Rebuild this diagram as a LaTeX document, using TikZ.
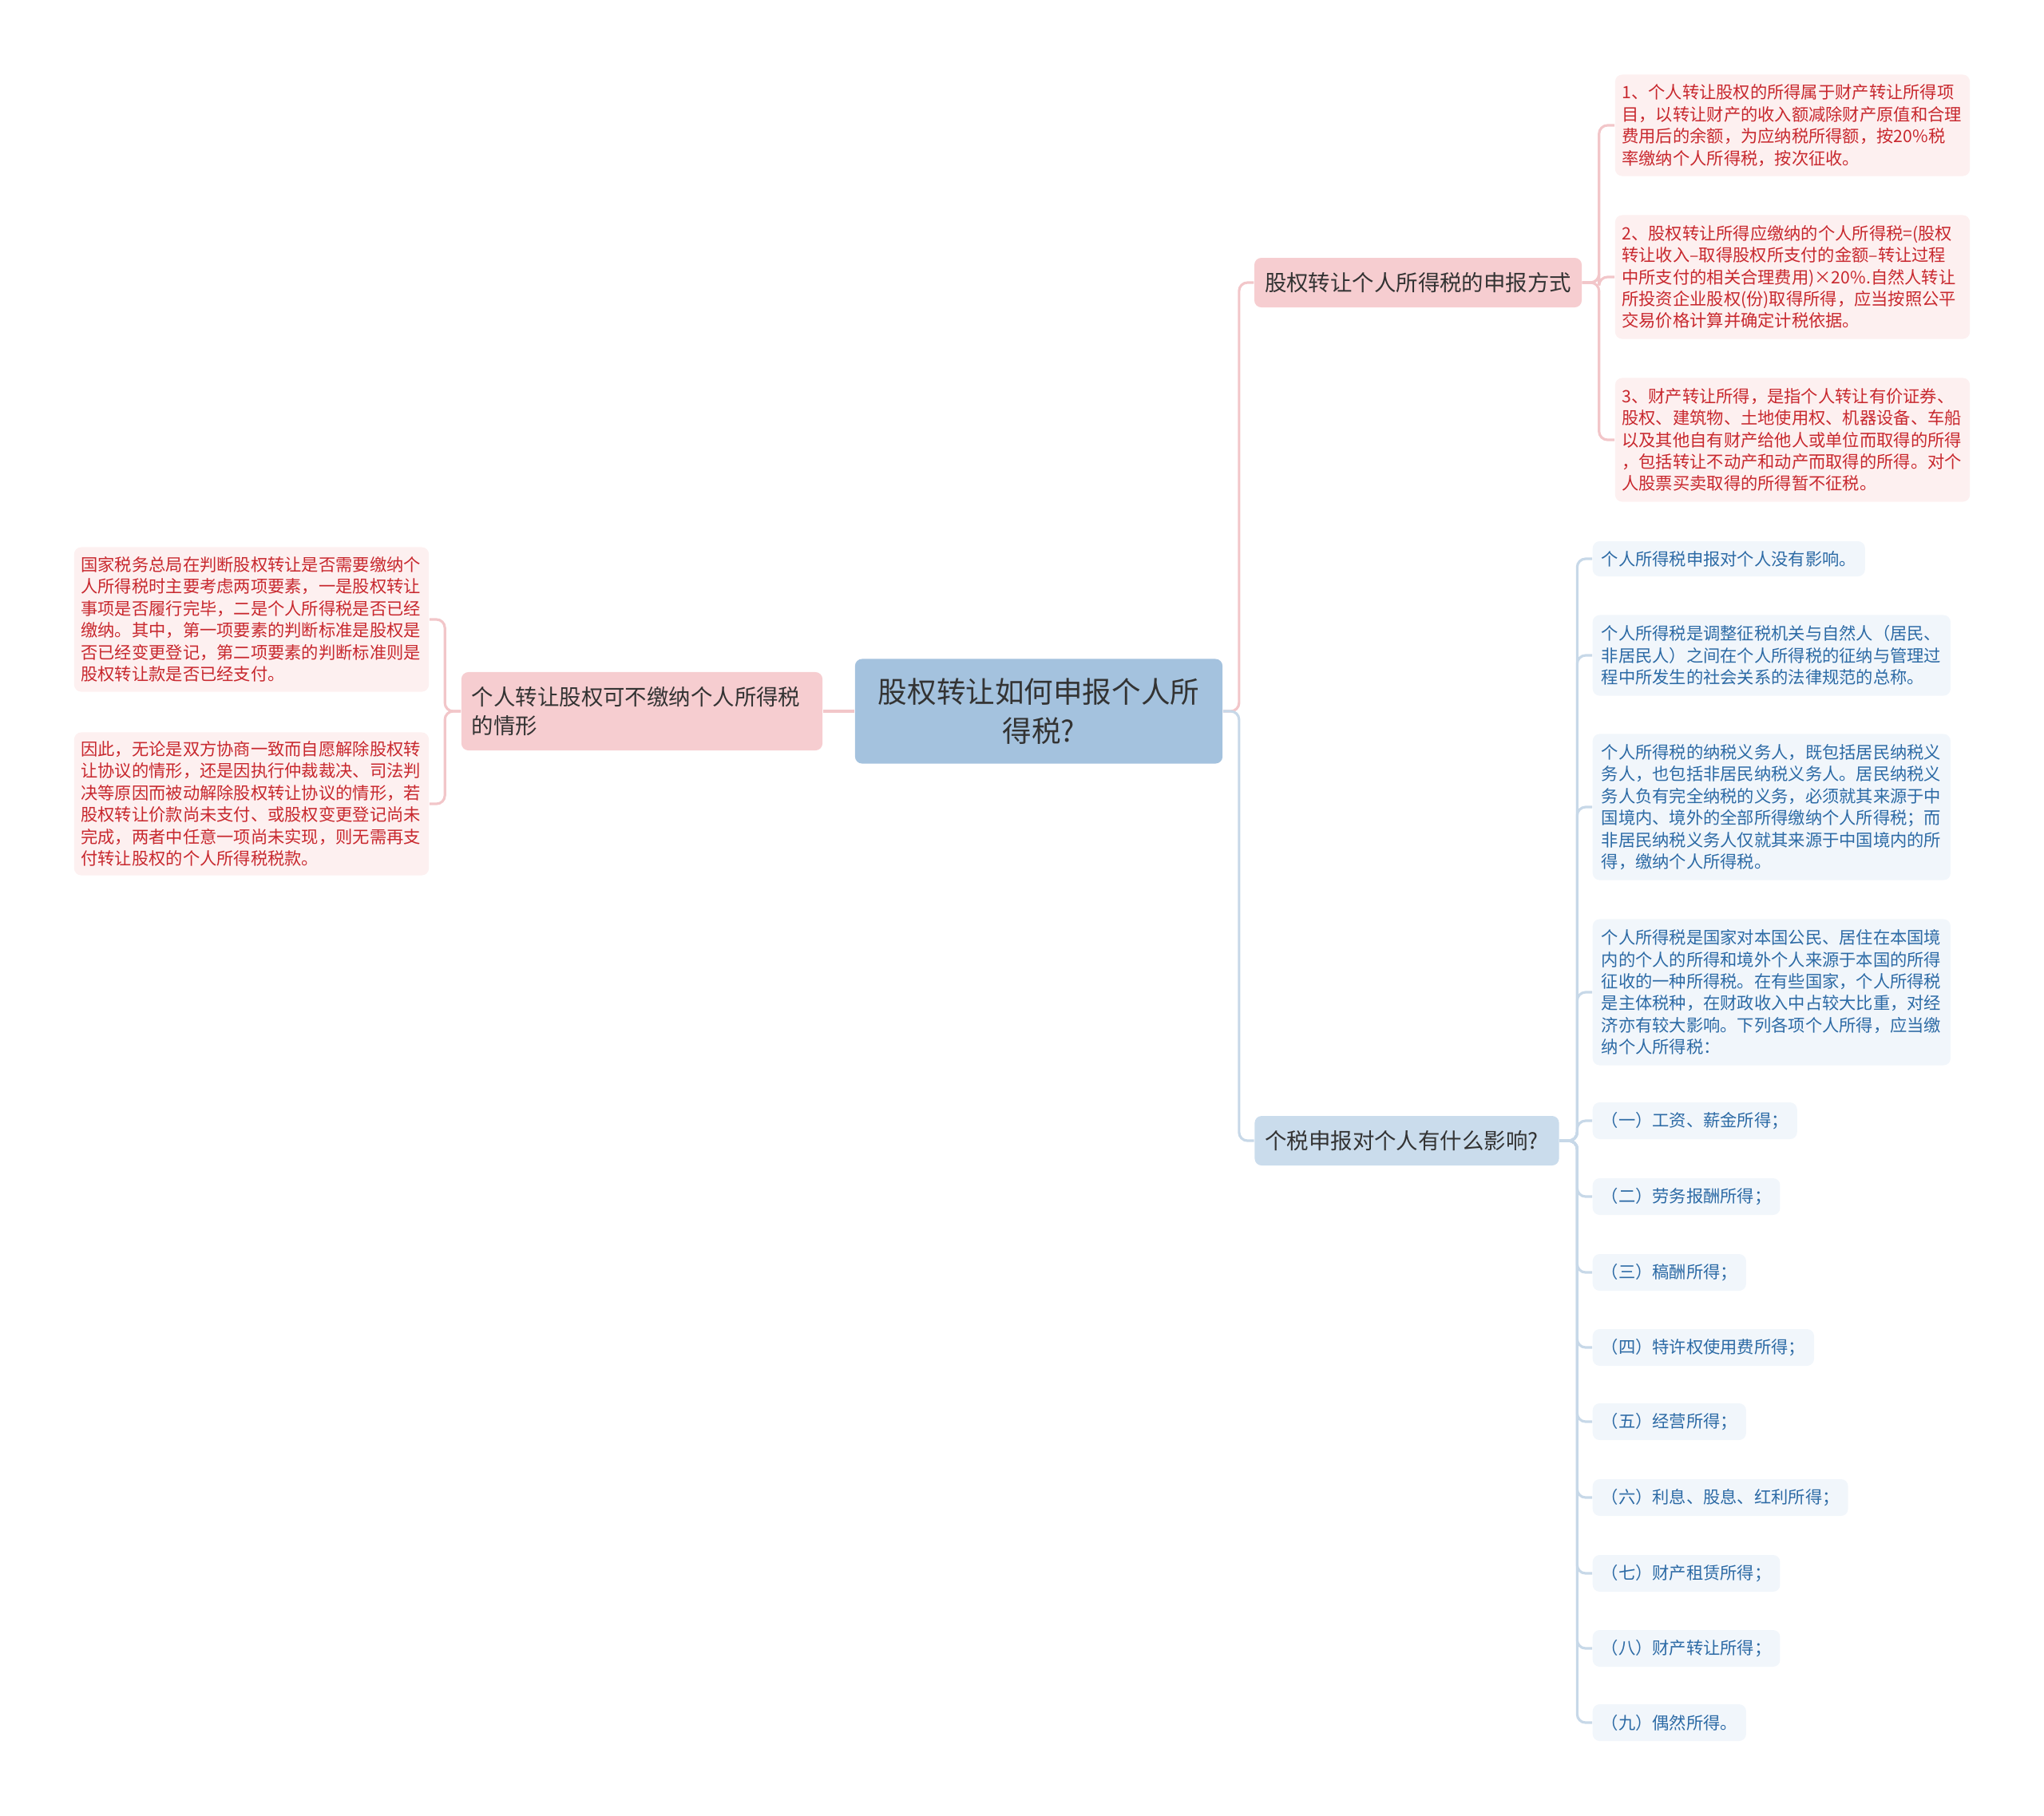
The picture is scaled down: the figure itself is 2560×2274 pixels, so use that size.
\documentclass[tikz,border=0pt]{standalone}
\usepackage{fontspec}
\setmainfont{Noto Sans CJK SC}
\definecolor{gsroot}{HTML}{A4C2DE}
\definecolor{gspink}{HTML}{F6CDD0}
\definecolor{gsblue}{HTML}{CADCEC}
\definecolor{gsleafp}{HTML}{FDF0F0}
\definecolor{gsleafb}{HTML}{F1F6FB}
\definecolor{gsred}{HTML}{C8282E}
\definecolor{gsnavy}{HTML}{2C6AA5}
\definecolor{gstext}{HTML}{333333}
\definecolor{gslinep}{HTML}{F2C6C9}
\definecolor{gslineb}{HTML}{C7D8E8}
\newcommand{\rootfs}{\fontsize{10.4pt}{13.9pt}\selectfont}
\newcommand{\mainfs}{\fontsize{7.8pt}{10.2pt}\selectfont}
\newcommand{\leaffs}{\fontsize{6.05pt}{7.8pt}\selectfont}

\begin{document}
\begin{tikzpicture}[x=0.01cm, y={(0cm,-0.01cm)},
     box/.style={rounded corners=2.5pt, inner ysep=0pt},
     root/.style={box, fill=gsroot, text=gstext, font=\rootfs, align=center, minimum width=4.6cm, minimum height=1.31cm},
     mainp/.style={box, fill=gspink, text=gstext, font=\mainfs, inner xsep=0.13cm, minimum height=0.62cm},
     mainb/.style={box, fill=gsblue, text=gstext, font=\mainfs, inner xsep=0.13cm, minimum height=0.62cm},
     leafp/.style={box, fill=gsleafp, text=gsred, font=\leaffs, align=left, inner xsep=0.085cm, text width=4.27cm},
     leafb/.style={box, fill=gsleafb, text=gsnavy, font=\leaffs, align=left, inner xsep=0.11cm, anchor=west},
     pl/.style={draw=gslinep, line width=0.9pt, rounded corners=3pt},
     bl/.style={draw=gslineb, line width=0.9pt, rounded corners=3pt}]
    \useasboundingbox (0,0) rectangle (2560,2274);

    \node[root] (root) at (1301,891) {股权转让如何申报个人所\\得税?};

    \node[mainp, align=left, text width=4.26cm, minimum height=0.98cm] (lm) at (804,891) {个人转让股权可不缴纳个人所得税\\的情形};
    \node[leafp, minimum height=1.81cm] (ll1) at (315,776) {国家税务总局在判断股权转让是否需要缴纳个\\人所得税时主要考虑两项要素，一是股权转让\\事项是否履行完毕，二是个人所得税是否已经\\缴纳。其中，第一项要素的判断标准是股权是\\否已经变更登记，第二项要素的判断标准则是\\股权转让款是否已经支付。};
    \node[leafp, minimum height=1.79cm] (ll2) at (315,1007) {因此，无论是双方协商一致而自愿解除股权转\\让协议的情形，还是因执行仲裁裁决、司法判\\决等原因而被动解除股权转让协议的情形，若\\股权转让价款尚未支付、或股权变更登记尚未\\完成，两者中任意一项尚未实现，则无需再支\\付转让股权的个人所得税税款。};

    \node[mainp] (rm1) at (1776,354) {股权转让个人所得税的申报方式};
    \node[leafp, minimum height=1.27cm] (pr1) at (2245,157) {1、个人转让股权的所得属于财产转让所得项\\目，以转让财产的收入额减除财产原值和合理\\费用后的余额，为应纳税所得额，按20\%税\\率缴纳个人所得税，按次征收。};
    \node[leafp, minimum height=1.55cm] (pr2) at (2245,347) {2、股权转让所得应缴纳的个人所得税=(股权\\转让收入–取得股权所支付的金额–转让过程\\中所支付的相关合理费用)×20\%.自然人转让\\所投资企业股权(份)取得所得，应当按照公平\\交易价格计算并确定计税依据。};
    \node[leafp, minimum height=1.55cm] (pr3) at (2245,551) {3、财产转让所得，是指个人转让有价证券、\\股权、建筑物、土地使用权、机器设备、车船\\以及其他自有财产给他人或单位而取得的所得\\，包括转让不动产和动产而取得的所得。对个\\人股票买卖取得的所得暂不征税。};

    \node[mainb, align=left, text width=3.55cm] (rm2) at (1762,1429) {个税申报对个人有什么影响?};
    \node[leafb, minimum height=0.44cm] (b1) at (1994,700) {个人所得税申报对个人没有影响。};
    \node[leafb, text width=4.26cm, minimum height=1.01cm] (b2) at (1994,821) {个人所得税是调整征税机关与自然人（居民、\\非居民人）之间在个人所得税的征纳与管理过\\程中所发生的社会关系的法律规范的总称。};
    \node[leafb, text width=4.26cm, minimum height=1.83cm] (b3) at (1994,1011) {个人所得税的纳税义务人，既包括居民纳税义\\务人，也包括非居民纳税义务人。居民纳税义\\务人负有完全纳税的义务，必须就其来源于中\\国境内、境外的全部所得缴纳个人所得税；而\\非居民纳税义务人仅就其来源于中国境内的所\\得，缴纳个人所得税。};
    \node[leafb, text width=4.26cm, minimum height=1.83cm] (b4) at (1994,1243) {个人所得税是国家对本国公民、居住在本国境\\内的个人的所得和境外个人来源于本国的所得\\征收的一种所得税。在有些国家，个人所得税\\是主体税种，在财政收入中占较大比重，对经\\济亦有较大影响。下列各项个人所得，应当缴\\纳个人所得税：};
    \node[leafb, minimum height=0.46cm] (b5) at (1994,1404) {（一）工资、薪金所得；};
    \node[leafb, minimum height=0.46cm] (b6) at (1994,1499) {（二）劳务报酬所得；};
    \node[leafb, minimum height=0.46cm] (b7) at (1994,1594) {（三）稿酬所得；};
    \node[leafb, minimum height=0.46cm] (b8) at (1994,1688) {（四）特许权使用费所得；};
    \node[leafb, minimum height=0.46cm] (b9) at (1994,1781) {（五）经营所得；};
    \node[leafb, minimum height=0.46cm] (b10) at (1994,1876) {（六）利息、股息、红利所得；};
    \node[leafb, minimum height=0.46cm] (b11) at (1994,1971) {（七）财产租赁所得；};
    \node[leafb, minimum height=0.46cm] (b12) at (1994,2065) {（八）财产转让所得；};
    \node[leafb, minimum height=0.46cm] (b13) at (1994,2158) {（九）偶然所得。};

    \draw[pl] (root.west) -- (lm.east);
    \draw[pl] (lm.west) -- ++(-20,0) |- (ll1.east);
    \draw[pl] (lm.west) -- ++(-20,0) |- (ll2.east);
    \draw[pl] (root.east) -- ++(20,0) |- (rm1.west);
    \draw[bl] (root.east) -- ++(20,0) |- (rm2.west);
    \draw[pl] (rm1.east) -- ++(21,0) |- (pr1.west);
    \draw[pl] (rm1.east) -- ++(21,0) |- (pr2.west);
    \draw[pl] (rm1.east) -- ++(21,0) |- (pr3.west);
    \draw[bl] (rm2.east) -- ++(22,0) |- (b1.west);
    \draw[bl] (rm2.east) -- ++(22,0) |- (b2.west);
    \draw[bl] (rm2.east) -- ++(22,0) |- (b3.west);
    \draw[bl] (rm2.east) -- ++(22,0) |- (b4.west);
    \draw[bl] (rm2.east) -- ++(22,0) |- (b5.west);
    \draw[bl] (rm2.east) -- ++(22,0) |- (b6.west);
    \draw[bl] (rm2.east) -- ++(22,0) |- (b7.west);
    \draw[bl] (rm2.east) -- ++(22,0) |- (b8.west);
    \draw[bl] (rm2.east) -- ++(22,0) |- (b9.west);
    \draw[bl] (rm2.east) -- ++(22,0) |- (b10.west);
    \draw[bl] (rm2.east) -- ++(22,0) |- (b11.west);
    \draw[bl] (rm2.east) -- ++(22,0) |- (b12.west);
    \draw[bl] (rm2.east) -- ++(22,0) |- (b13.west);
  \end{tikzpicture}
\end{document}
